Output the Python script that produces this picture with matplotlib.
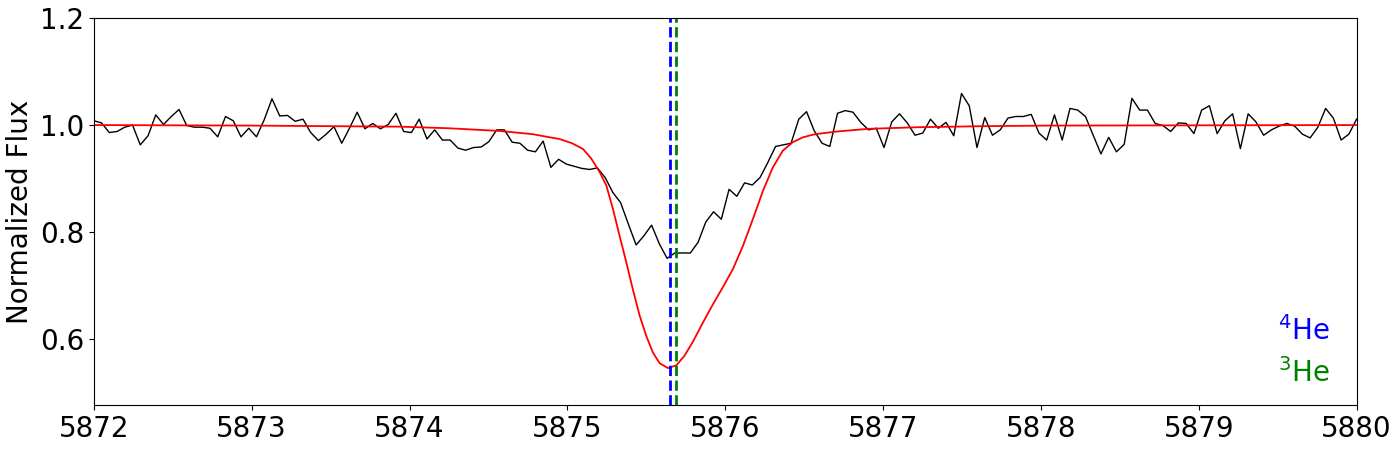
import numpy as np
import matplotlib
matplotlib.use('Agg')
from matplotlib import pyplot as plt

# observed spectrum, 164 pixels from 5872 to 5880 A
wave = np.linspace(5872, 5880, 164)
flux = [1.008, 1.004, 0.986, 0.988, 0.996, 1.000, 0.963, 0.980, 1.019, 1.001,
        1.016, 1.029, 0.999, 0.996, 0.996, 0.994, 0.978, 1.016, 1.008, 0.978,
        0.994, 0.978, 1.010, 1.049, 1.017, 1.018, 1.007, 1.011, 0.986, 0.971,
        0.983, 0.997, 0.966, 0.994, 1.024, 0.993, 1.003, 0.993, 1.001, 1.022,
        0.988, 0.986, 1.011,
        0.974, 0.991, 0.972, 0.972, 0.957, 0.953, 0.958, 0.959, 0.969, 0.991,
        0.991, 0.968, 0.966, 0.953, 0.950, 0.970, 0.921, 0.936, 0.927, 0.923,
        0.919, 0.917, 0.920, 0.902, 0.874, 0.855, 0.815, 0.776, 0.793, 0.813,
        0.778, 0.751, 0.761, 0.761, 0.761, 0.781, 0.819, 0.838, 0.824, 0.880,
        0.867, 0.892, 0.888, 0.902, 0.930, 0.960, 0.963, 0.966, 1.011, 1.025,
        0.989, 0.966, 0.960, 1.022, 1.027, 1.024, 1.005, 0.991, 0.994, 0.958,
        1.006, 1.021, 1.004, 0.981, 0.985, 1.011, 0.994, 1.005, 0.980, 1.059,
        1.036, 0.958, 1.014, 0.981, 0.991, 1.013, 1.016, 1.016, 1.020, 0.985,
        0.972,
        1.019, 0.972, 1.031, 1.028, 1.016, 0.981, 0.946, 0.977, 0.950, 0.964,
        1.050, 1.028, 1.028, 1.003, 0.999, 0.988, 1.004, 1.003, 0.984, 1.028,
        1.036, 0.984, 1.008, 1.021, 0.956, 1.021, 1.006, 0.981, 0.991, 0.998,
        1.003, 0.998, 0.983, 0.976, 0.996, 1.031, 1.013, 0.972, 0.983, 1.011]

# model profile
model_wave = [5872.00, 5872.99, 5873.94, 5874.25, 5874.57, 5874.78, 5874.89,
              5874.95, 5875.03, 5875.10, 5875.15, 5875.205, 5875.247, 5875.289,
              5875.331, 5875.374, 5875.415, 5875.458, 5875.500, 5875.542,
              5875.585, 5875.637, 5875.690, 5875.742, 5875.795, 5875.859,
              5875.922, 5875.985, 5876.049, 5876.112, 5876.175, 5876.239,
              5876.302, 5876.365, 5876.428, 5876.492, 5876.555, 5876.598,
              5876.71, 5876.91, 5877.23, 5877.66, 5878.05, 5880.00]
model_flux = [1.000, 0.999, 0.997, 0.994, 0.989, 0.983, 0.977,
              0.974, 0.966, 0.955, 0.938, 0.912, 0.887, 0.843,
              0.793, 0.743, 0.693, 0.644, 0.606, 0.575,
              0.555, 0.546, 0.551, 0.569, 0.595, 0.631,
              0.665, 0.697, 0.731, 0.774, 0.824, 0.877,
              0.921, 0.952, 0.968, 0.977, 0.982, 0.984,
              0.988, 0.993, 0.996, 0.998, 0.999, 1.000]

he4 = 5875.65
he3 = 5875.69

fig = plt.figure(figsize=(14, 4.5), dpi=100)
ax = fig.add_axes([0.067, 0.1, 0.902, 0.86])

ax.plot(wave, flux, color='black', lw=1)
ax.plot(model_wave, model_flux, color='red', lw=1.3)
ax.axvline(he4, color='blue', ls='--', lw=2)
ax.axvline(he3, color='green', ls='--', lw=2)

ax.text(0.979, 0.19, r'$^4$He', color='blue', fontsize=20, ha='right', va='center', transform=ax.transAxes)
ax.text(0.979, 0.083, r'$^3$He', color='green', fontsize=20, ha='right', va='center', transform=ax.transAxes)

ax.set_xlim(5872, 5880)
ax.set_ylim(0.477, 1.2)
ax.set_yticks([0.6, 0.8, 1.0, 1.2])
ax.set_ylabel('Normalized Flux', fontsize=20)
ax.tick_params(labelsize=20)

plt.savefig('out.png')
